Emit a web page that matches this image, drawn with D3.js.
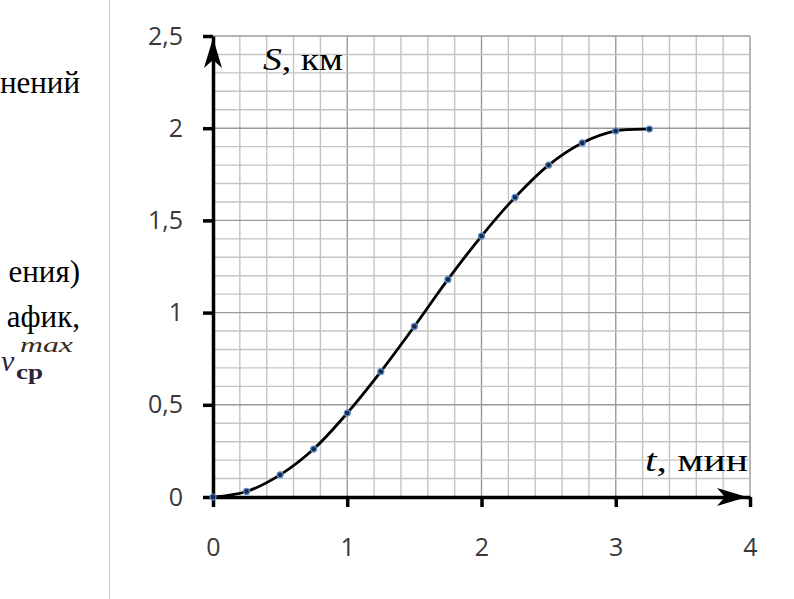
<!DOCTYPE html>
<html>
<head>
<meta charset="utf-8">
<script src="https://cdn.jsdelivr.net/npm/d3@7"></script>
<style>
  html, body { margin: 0; padding: 0; background: #fff; }
  svg { display: block; }
</style>
</head>
<body>
<svg id="chart" width="794" height="599"></svg>
<script>
// ---- data ----
const times = [0, 0.25, 0.5, 0.75, 1, 1.25, 1.5, 1.75, 2, 2.25, 2.5, 2.75, 3, 3.25];
const distances = [0, 0.03, 0.12, 0.26, 0.455, 0.68, 0.925, 1.18, 1.415, 1.625, 1.80, 1.92, 1.985, 1.995];
const xTicks = [0, 1, 2, 3, 4];
const yTicks = [0, 0.5, 1, 1.5, 2, 2.5];
const xMinor = d3.range(0, 4.0001, 0.2);
const yMinor = d3.range(0, 2.5001, 0.1);
const leftTextLines = [
  { text: "нений", y: 93 },
  { text: "ения)", y: 282 },
  { text: "афик,", y: 327 }
];

const svg = d3.select("#chart");
const x = d3.scaleLinear().domain([0, 4]).range([213, 750]);
const y = d3.scaleLinear().domain([0, 2.5]).range([497, 36]);
const loc = d3.formatLocale({ decimal: ",", thousands: " ", grouping: [3], currency: ["", ""] });
const fmt = loc.format("~g");

// divider line on the left
svg.append("line").attr("x1", 109.5).attr("x2", 109.5).attr("y1", 0).attr("y2", 599)
  .attr("stroke", "#c8c8c8").attr("stroke-width", 1);

// left text fragments
svg.append("g").selectAll("text").data(leftTextLines).join("text")
  .attr("x", 80).attr("y", d => d.y).attr("text-anchor", "end")
  .attr("font-family", "'Liberation Serif', 'Times New Roman', serif")
  .attr("font-size", 31).attr("fill", "#000").text(d => d.text);

// formula v_cp^max
const f = svg.append("g").attr("font-family", "'Liberation Serif', serif").attr("fill", "#2a2238");
f.append("text").attr("x", 1).attr("y", 371).attr("font-size", 30).attr("font-style", "italic").text("v");
f.append("text").attr("x", 20).attr("y", 352).attr("font-size", 21).attr("font-style", "italic")
  .attr("fill", "#3a2c20").attr("textLength", 53).attr("lengthAdjust", "spacingAndGlyphs").text("max");
f.append("text").attr("x", 16).attr("y", 379).attr("font-size", 21).attr("font-weight", "bold")
  .attr("textLength", 27).attr("lengthAdjust", "spacingAndGlyphs").text("ср");

// grid
const grid = svg.append("g");
grid.selectAll("line.vx").data(xMinor).join("line")
  .attr("x1", d => x(d)).attr("x2", d => x(d)).attr("y1", y(2.5)).attr("y2", y(0))
  .attr("stroke", d => Math.abs(d - Math.round(d)) < 1e-6 ? "#9a9a9a" : "#c4c4c4")
  .attr("stroke-width", 1.4);
grid.selectAll("line.hy").data(yMinor).join("line")
  .attr("x1", x(0)).attr("x2", x(4)).attr("y1", d => y(d)).attr("y2", d => y(d))
  .attr("stroke", d => Math.abs(d * 2 - Math.round(d * 2)) < 1e-6 ? "#9a9a9a" : "#c4c4c4")
  .attr("stroke-width", 1.4);

// axes
const tickFont = "'Open Sans', 'DejaVu Sans', sans-serif";
const yAxis = svg.append("g").attr("transform", `translate(${x(0)},0)`)
  .call(d3.axisLeft(y).tickValues(yTicks).tickFormat(fmt).tickSize(10).tickSizeOuter(0).tickPadding(20));
const xAxis = svg.append("g").attr("transform", `translate(0,${y(0)})`)
  .call(d3.axisBottom(x).tickValues(xTicks).tickFormat(fmt).tickSize(10).tickSizeOuter(0).tickPadding(31));
[yAxis, xAxis].forEach(a => {
  a.select(".domain").attr("stroke", "#000").attr("stroke-width", 3.5);
  a.selectAll(".tick line").attr("stroke", "#000").attr("stroke-width", 3.5);
  a.selectAll(".tick text").attr("font-family", tickFont).attr("font-size", 25).attr("fill", "#383838");
});

// arrowheads
const ax = x(0), ay = y(2.5) + 2;
svg.append("path")
  .attr("d", `M${ax},${ay} L${ax + 9},${ay + 30} L${ax},${ay + 22} L${ax - 9},${ay + 30} Z`)
  .attr("fill", "#000");
const bx = x(4) - 3, by = y(0);
svg.append("path")
  .attr("d", `M${bx},${by} L${bx - 30},${by - 9} L${bx - 22},${by} L${bx - 30},${by + 9} Z`)
  .attr("fill", "#000");

// axis titles
const tS = svg.append("text").attr("x", 263).attr("y", 70)
  .attr("font-family", "'Liberation Serif', serif").attr("font-size", 32).attr("fill", "#000")
  .attr("textLength", 80).attr("lengthAdjust", "spacingAndGlyphs");
tS.append("tspan").attr("font-style", "italic").text("S");
tS.append("tspan").text(", км");
const tT = svg.append("text").attr("x", 645).attr("y", 471)
  .attr("font-family", "'Liberation Serif', serif").attr("font-size", 32).attr("fill", "#000")
  .attr("textLength", 103).attr("lengthAdjust", "spacingAndGlyphs");
tT.append("tspan").attr("font-style", "italic").text("t");
tT.append("tspan").text(", мин");

// curve
const line = d3.line().x((d, i) => x(times[i])).y(d => y(d)).curve(d3.curveCatmullRom.alpha(0.5));
svg.append("path").datum(distances).attr("d", line)
  .attr("fill", "none").attr("stroke", "#000").attr("stroke-width", 2.8);

// markers
svg.append("g").selectAll("circle").data(distances).join("circle")
  .attr("cx", (d, i) => x(times[i])).attr("cy", d => y(d)).attr("r", 3)
  .attr("fill", "#1c2a48").attr("stroke", "#5b8fd0").attr("stroke-width", 1.2);
</script>
</body>
</html>
